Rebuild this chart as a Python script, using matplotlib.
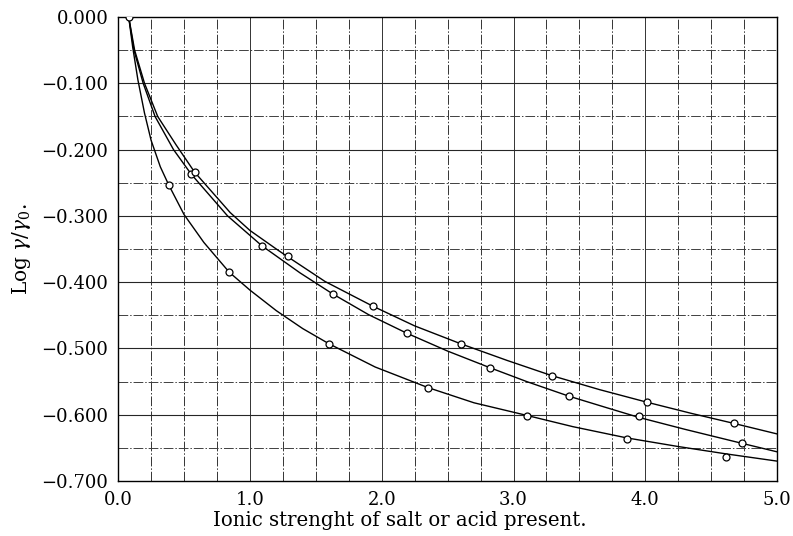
import matplotlib.pyplot as plt
import numpy as np

# curves (ionic strength, log gamma/gamma0)
curve_a_x = [0.08, 0.11, 0.15, 0.2, 0.25, 0.32, 0.383, 0.5, 0.65, 0.843, 1.0, 1.2, 1.4, 1.6,
             1.95, 2.35, 2.7, 3.1, 3.45, 3.86, 4.25, 4.61, 5.0]
curve_a_y = [0, -0.045, -0.095, -0.145, -0.186, -0.226, -0.253, -0.298, -0.340, -0.385, -0.412,
             -0.443, -0.470, -0.493, -0.528, -0.559, -0.582, -0.601, -0.618, -0.635, -0.648,
             -0.659, -0.670]

curve_b_x = [0.08, 0.12, 0.19, 0.28, 0.42, 0.554, 0.83, 1.09, 1.38, 1.63, 1.9, 2.19, 2.5, 2.82,
             3.1, 3.42, 3.7, 3.95, 4.3, 4.73, 5.0]
curve_b_y = [0, -0.05, -0.10, -0.15, -0.20, -0.237, -0.30, -0.345, -0.386, -0.418, -0.449,
             -0.477, -0.504, -0.529, -0.550, -0.572, -0.589, -0.604, -0.622, -0.643, -0.656]

curve_c_x = [0.08, 0.125, 0.2, 0.3, 0.44, 0.58, 0.85, 1.0, 1.2, 1.285, 1.57, 1.93, 2.25, 2.6,
             2.95, 3.29, 3.65, 4.01, 4.35, 4.67, 5.0]
curve_c_y = [0, -0.05, -0.10, -0.15, -0.193, -0.234, -0.295, -0.322, -0.35, -0.3615, -0.399,
             -0.436, -0.466, -0.493, -0.518, -0.541, -0.562, -0.581, -0.598, -0.613, -0.629]

# measured points (open circles)
pts_a_x = [0.08, 0.383, 0.843, 1.60, 2.35, 3.10, 3.86, 4.61]
pts_a_y = [0.0, -0.253, -0.385, -0.494, -0.559, -0.602, -0.636, -0.664]
pts_b_x = [0.554, 1.09, 1.63, 2.19, 2.82, 3.42, 3.95, 4.73]
pts_b_y = [-0.237, -0.345, -0.418, -0.477, -0.529, -0.572, -0.602, -0.643]
pts_c_x = [0.58, 1.285, 1.93, 2.60, 3.29, 4.01, 4.67]
pts_c_y = [-0.234, -0.361, -0.436, -0.493, -0.541, -0.581, -0.613]

x_ticks = [0, 1, 2, 3, 4, 5]
x_labels = ['0.0', '1.0', '2.0', '3.0', '4.0', '5.0']
y_ticks = [0, -0.1, -0.2, -0.3, -0.4, -0.5, -0.6, -0.7]
y_labels = ['0.000', '\u22120.100', '\u22120.200', '\u22120.300', '\u22120.400',
            '\u22120.500', '\u22120.600', '\u22120.700']

plt.rcParams['font.family'] = 'DejaVu Serif'
plt.rcParams['mathtext.fontset'] = 'dejavuserif'

fig = plt.figure(figsize=(7.93, 5.36), dpi=100)
ax = fig.add_axes([0.149, 0.1026, 0.831, 0.8656])

# graph paper
for gx in np.arange(0.25, 5.0, 0.25):
    ls = '-' if abs(gx - round(gx)) < 1e-9 else (0, (10, 2, 1.5, 2))
    ax.axvline(gx, color='0.2', lw=0.7, ls=ls, zorder=1)
for gy in np.arange(-0.05, -0.70, -0.05):
    major = abs(gy * 10 - round(gy * 10)) < 1e-9
    ls = '-' if major else (0, (10, 2, 1.5, 2))
    ax.axhline(gy, color='0.15' if major else '0.25', lw=0.8 if major else 0.7, ls=ls, zorder=1)

for cx, cy in [(curve_a_x, curve_a_y), (curve_b_x, curve_b_y), (curve_c_x, curve_c_y)]:
    ax.plot(cx, cy, color='black', lw=1.0, zorder=3)

for px, py in [(pts_a_x, pts_a_y), (pts_b_x, pts_b_y), (pts_c_x, pts_c_y)]:
    ax.plot(px, py, 'o', ms=5, mfc='white', mec='black', mew=0.9, zorder=4)

ax.set_xlim(0, 5)
ax.set_ylim(-0.7, 0)
ax.set_xticks(x_ticks)
ax.set_xticklabels(x_labels)
ax.set_yticks(y_ticks)
ax.set_yticklabels(y_labels)
ax.tick_params(length=0, labelsize=13, pad=7)
for s in ax.spines.values():
    s.set_linewidth(1.0)

ax.set_xlabel('Ionic strenght of salt or acid present.', fontsize=14.2)
ax.xaxis.set_label_coords(0.428, -0.064)
ax.set_ylabel(r'Log $\gamma/\gamma_0$.', fontsize=14.5, labelpad=6)

plt.savefig('out.png', dpi=100)
